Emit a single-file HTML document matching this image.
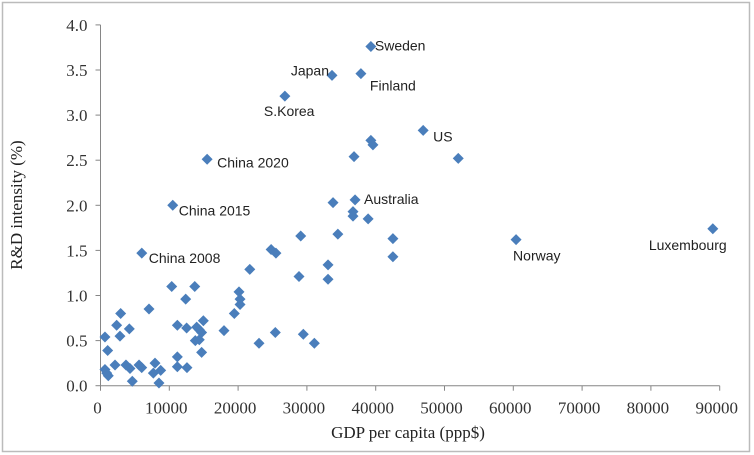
<!DOCTYPE html>
<html><head><meta charset="utf-8"><style>
html,body{margin:0;padding:0;background:#fff;}
svg{display:block;}
.tick{font-family:"Liberation Serif",serif;font-size:17px;fill:#333;}
.lbl{font-family:"Liberation Sans",sans-serif;font-size:14px;fill:#222;}
.title{font-family:"Liberation Serif",serif;font-size:17px;fill:#222;}
</style></head><body>
<svg id="chart" width="754" height="455">
<rect x="2.5" y="2.5" width="747" height="449" fill="#fff" stroke="#bbb" stroke-width="1.5"/>
</svg>
<script>
const gdp=[39300,33650,37850,26800,46900,52000,39300,39600,36850,15500,10500,37000,33800,36700,36700,38900,42500,34500,29100,24800,25500,6000,42500,60400,89000,
10350,13700,21700,28850,33070,33070,12380,20130,20280,20280,19450,7050,2930,2350,4190,650,2830,1040,11170,12520,13980,14360,14700,14950,13780,14360,14700,17950,23040,25410,29480,31080,11170,11170,12570,2110,650,900,1130,3700,4290,4620,5600,5990,7920,7680,8750,8500];
const rd=[3.76,3.44,3.46,3.21,2.83,2.52,2.72,2.67,2.54,2.51,2.00,2.06,2.03,1.93,1.88,1.85,1.63,1.68,1.66,1.51,1.47,1.47,1.43,1.62,1.74,
1.10,1.10,1.29,1.21,1.34,1.18,0.96,1.04,0.96,0.90,0.80,0.85,0.80,0.67,0.63,0.54,0.55,0.39,0.67,0.64,0.65,0.62,0.59,0.72,0.50,0.51,0.37,0.61,0.47,0.59,0.57,0.47,0.32,0.21,0.20,0.23,0.18,0.14,0.11,0.23,0.19,0.05,0.23,0.20,0.25,0.14,0.17,0.03];
const labelIdx=[0,1,2,3,4,9,10,11,21,23,24];
const labelText=["Sweden","Japan","Finland","S.Korea","US","China 2020","China 2015","Australia","China 2008","Norway","Luxembourg"];
const xTicks=[0,10000,20000,30000,40000,50000,60000,70000,80000,90000];
const yTicks=[0.0,0.5,1.0,1.5,2.0,2.5,3.0,3.5,4.0];
const labelOff=[[4,4,"start"],[-3,0,"end"],[9,17,"start"],[-21,20,"start"],[10,11,"start"],[10,8,"start"],[6,10,"start"],[9,4,"start"],[7,10,"start"],[-3,21,"start"],[-64,21,"start"]];
const NS="http://www.w3.org/2000/svg";
const svg=document.getElementById('chart');
const X0=100.5,XS=6.88/1000,Y0=385.7,YS=90.2;
const sx=v=>X0+v*XS, sy=v=>Y0-v*YS;
function mk(t,a){const e=document.createElementNS(NS,t);for(const k in a)e.setAttribute(k,a[k]);svg.appendChild(e);return e;}
let ax=mk('line',{x1:X0,y1:sy(4),x2:X0,y2:Y0,stroke:'#868686'});


let bx=mk('line',{x1:X0,y1:Y0,x2:sx(90000),y2:Y0,stroke:'#868686'});


yTicks.forEach(v=>{
 const t=mk('line',{x1:X0-5,x2:X0,y1:sy(v),y2:sy(v),stroke:'#868686'});
 
 
 const l=mk('text',{x:X0-13,y:sy(v)+6,'text-anchor':'end',class:'tick'});l.textContent=v.toFixed(1);
 
 
});
xTicks.forEach(v=>{
 const t=mk('line',{x1:sx(v),x2:sx(v),y1:Y0,y2:Y0+5,stroke:'#868686'});
 
 
 const l=mk('text',{x:sx(v)-3,y:Y0+28,'text-anchor':'middle',class:'tick'});l.textContent=v;
 
 
});
gdp.forEach((g,i)=>{
 const cx=sx(g),cy=sy(rd[i]),r=5.5;
 const p=mk('polygon',{points:`${cx},${cy-r} ${cx+r},${cy} ${cx},${cy+r} ${cx-r},${cy}`,fill:'#4a7ebb'});
 
 
});
labelIdx.forEach((idx,j)=>{
 const o=labelOff[j];
 const t=mk('text',{x:sx(gdp[idx])+o[0],y:sy(rd[idx])+o[1],'text-anchor':o[2],class:'lbl'});
 t.textContent=labelText[j];
 
 
});
let xt=mk('text',{x:408,y:438,'text-anchor':'middle',class:'title'});xt.textContent='GDP per capita (ppp$)';


let yt=mk('text',{x:0,y:0,'text-anchor':'middle',class:'title',transform:'translate(22,205) rotate(-90)'});yt.textContent='R&D intensity (%)';


</script>
</body></html>
